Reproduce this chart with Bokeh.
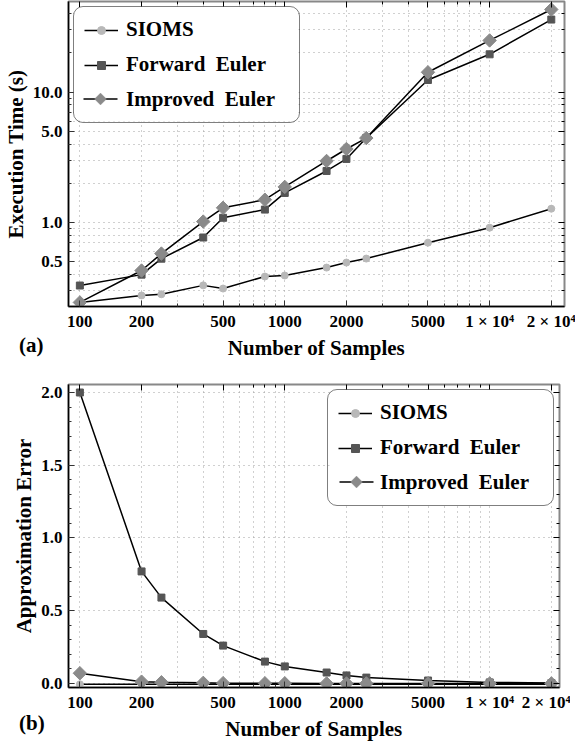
from bokeh.plotting import figure
from bokeh.layouts import column
from bokeh.models import (FixedTicker, PrintfTickFormatter, CustomJSTickFormatter, Legend,
                          LegendItem, LogAxis, LinearAxis, Range1d, PolyAnnotation,
                          BoxAnnotation, Div)
from bokeh.embed import file_html
from bokeh.resources import INLINE

# ---------------- data ----------------
samples = [100, 200, 250, 400, 500, 800, 1000, 1600, 2000, 2500, 5000, 10000, 20000]

time_sioms = [0.245, 0.277, 0.283, 0.331, 0.313, 0.387, 0.394, 0.453, 0.495, 0.531, 0.703, 0.916, 1.28]
time_forward = [0.33, 0.40, 0.53, 0.77, 1.09, 1.26, 1.69, 2.49, 3.08, 4.46, 12.4, 19.5, 36.0]
time_improved = [0.245, 0.43, 0.58, 1.02, 1.30, 1.50, 1.88, 2.97, 3.67, 4.45, 14.2, 24.9, 43.0]

err_sioms = [-0.006, -0.006, -0.006, -0.006, -0.006, -0.006, -0.006, -0.006, -0.006, -0.006, -0.006, -0.006, -0.006]
err_forward = [2.0, 0.77, 0.59, 0.34, 0.26, 0.15, 0.117, 0.075, 0.055, 0.04, 0.02, 0.007, 0.003]
err_improved = [0.07, 0.012, 0.008, 0.004, 0.002, 0.001, 0.001, 0.0, 0.0, 0.0, 0.0, 0.0, 0.0]

series_names = ["SIOMS", "Forward\u00a0 Euler", "Improved\u00a0 Euler"]
panel_tags = ["(a)", "(b)"]

x_ticks = [100, 200, 500, 1000, 2000, 5000, 10000, 20000]
x_minor = [300, 400, 600, 700, 800, 900, 3000, 4000, 6000, 7000, 8000, 9000]
time_ticks = [0.5, 1, 5, 10]
time_minor = [0.3, 0.4, 0.6, 0.7, 0.8, 0.9, 2, 3, 4, 6, 7, 8, 9, 20, 30, 40]
err_ticks = [0.0, 0.5, 1.0, 1.5, 2.0]
err_minor = [0.1, 0.2, 0.3, 0.4, 0.6, 0.7, 0.8, 0.9, 1.1, 1.2, 1.3, 1.4, 1.6, 1.7, 1.8, 1.9]

FONT = "Liberation Serif"
GRID = "#a0a0a0"
C_SIOMS = "#b8b8b8"
C_FWD = "#555555"
C_IMP = "#8a8a8a"

# legend geometry (pixels)
LG_MARGIN, LG_PAD, LG_SPACE, LG_ROW = 5, 10, 10, 25
LG_GW, LG_STANDOFF, LG_LW = 34, 8, 163
LG_W = LG_PAD * 2 + LG_GW + LG_STANDOFF + LG_LW
LG_H = LG_PAD * 2 + 3 * LG_ROW + 2 * LG_SPACE

x_fmt = CustomJSTickFormatter(code="""
if (tick >= 10000) { return (tick/10000).toFixed(0) + " \u00d7 10\u2074"; }
return tick.toFixed(0);
""")


def style_axis(ax):
    ax.axis_line_color = "black"
    ax.axis_line_width = 1.5
    ax.major_tick_in = 6
    ax.major_tick_out = 0
    ax.minor_tick_in = 3
    ax.minor_tick_out = 0
    ax.major_tick_line_color = "#333333"
    ax.minor_tick_line_color = "#333333"
    ax.major_label_text_font = FONT
    ax.major_label_text_font_style = "bold"
    ax.major_label_text_font_size = "17px"
    ax.major_label_text_color = "black"
    ax.axis_label_text_font = FONT
    ax.axis_label_text_font_style = "bold"
    ax.axis_label_text_font_size = "21px"
    ax.axis_label_text_color = "black"


def mirror_axes(p, xt, yt, ylog):
    top = LogAxis(ticker=xt, major_label_text_font_size="0px", major_label_standoff=0,
                  axis_line_color=None, major_tick_in=6, major_tick_out=0,
                  minor_tick_in=3, minor_tick_out=0, major_label_text_alpha=0)
    p.add_layout(top, "above")
    cls = LogAxis if ylog else LinearAxis
    right = cls(ticker=yt, major_label_text_font_size="0px", major_label_standoff=0,
                axis_line_color=None, major_tick_in=6, major_tick_out=0,
                minor_tick_in=3, minor_tick_out=0, major_label_text_alpha=0)
    p.add_layout(right, "right")


def make_legend(p, items, location, fw, fh):
    # white rounded backdrop, then the Improved Euler glyph (line + diamond), then the legend
    if location == "top_left":
        left = LG_MARGIN
    else:
        left = fw - LG_MARGIN - LG_W
    top = fh - LG_MARGIN
    bkw = dict(left=left, right=left + LG_W, top=top, bottom=top - LG_H,
               left_units="screen", right_units="screen", top_units="screen",
               bottom_units="screen", fill_color="white", fill_alpha=1.0, line_color=None)
    try:
        p.add_layout(BoxAnnotation(border_radius=10, **bkw))
    except Exception:
        p.add_layout(BoxAnnotation(**bkw))
    gx0 = left + LG_PAD
    cx = gx0 + LG_GW / 2
    cy = top - LG_PAD - 2 * (LG_ROW + LG_SPACE) - LG_ROW / 2
    p.add_layout(BoxAnnotation(left=gx0, right=gx0 + LG_GW, top=cy + 0.75, bottom=cy - 0.75,
                               left_units="screen", right_units="screen", top_units="screen",
                               bottom_units="screen", fill_color="black", fill_alpha=1.0,
                               line_color=None))
    r = 6
    p.add_layout(PolyAnnotation(xs=[cx - r, cx, cx + r, cx], ys=[cy, cy + r, cy, cy - r],
                                xs_units="screen", ys_units="screen",
                                fill_color=C_IMP, fill_alpha=1.0, line_color=C_IMP,
                                line_width=1))
    kw = dict(items=items, location=location, margin=LG_MARGIN, padding=LG_PAD,
              spacing=LG_SPACE, label_height=20, glyph_height=20, glyph_width=LG_GW,
              label_standoff=LG_STANDOFF, label_width=LG_LW, label_text_font=FONT,
              label_text_font_style="bold", label_text_font_size="21px",
              label_text_color="black", border_line_color="black", border_line_width=1.5,
              background_fill_alpha=0.0)
    try:
        lg = Legend(border_radius=10, **kw)
    except Exception:
        lg = Legend(**kw)
    p.add_layout(lg)


def add_series(p, ys_list):
    items = []
    specs = [
        (ys_list[0], dict(marker="circle", size=7, fill_color=C_SIOMS, line_color=C_SIOMS)),
        (ys_list[1], dict(marker="square", size=7, fill_color=C_FWD, line_color=C_FWD)),
        (ys_list[2], dict(marker="square", size=9.5, angle=0.785398, fill_color=C_IMP, line_color=C_IMP)),
    ]
    for k, (name, (ys, mk)) in enumerate(zip(series_names, specs)):
        lr = p.line(samples, ys, line_color="black", line_width=1.5)
        sr = p.scatter(samples, ys, **mk)
        if k < 2:
            rs = [lr, sr]
        else:
            rs = [p.line([], [], line_color="black", line_alpha=0.0)]
        items.append(LegendItem(label=name, renderers=rs))
    return items


def style_grid(p, minor_y=True):
    for g in (p.xgrid[0], p.ygrid[0]):
        g.grid_line_color = GRID
        g.grid_line_dash = "1 4"
        g.grid_line_width = 1
    p.xgrid[0].minor_grid_line_color = GRID
    p.xgrid[0].minor_grid_line_dash = "1 4"
    if minor_y:
        p.ygrid[0].minor_grid_line_color = GRID
        p.ygrid[0].minor_grid_line_dash = "1 4"


def setup_x(p, xt):
    ax = p.xaxis[0]
    ax.ticker = xt
    ax.formatter = x_fmt
    style_axis(ax)
    ax.axis_label = "Number of Samples"
    ax.major_label_standoff = 5
    ax.axis_label_standoff = 2


def tag_div(text, top_shift, bottom_fill):
    return Div(text=text, width=40, height=24,
               margin=(top_shift, 0, bottom_fill, 19),
               styles={"font-family": FONT, "font-size": "21px", "font-weight": "bold",
                       "line-height": "24px", "color": "black", "z-index": "10"})


# ---------------- (a) execution time ----------------
FW1, FH1 = 496, 305
xt1 = FixedTicker(ticks=x_ticks, minor_ticks=x_minor)
yt1 = FixedTicker(ticks=time_ticks, minor_ticks=time_minor)
p1 = figure(x_axis_type="log", y_axis_type="log",
            x_range=Range1d(88, 23200), y_range=Range1d(0.228, 49.5),
            frame_width=FW1, frame_height=FH1,
            min_border_left=63, min_border_right=11, min_border_top=1, min_border_bottom=30,
            output_backend="svg", toolbar_location=None)
p1.outline_line_color = "#888888"
p1.outline_line_width = 2
setup_x(p1, xt1)
p1.yaxis[0].ticker = yt1
p1.yaxis[0].formatter = PrintfTickFormatter(format="%.1f")
style_axis(p1.yaxis[0])
p1.yaxis[0].axis_label = "Execution Time (s)"
p1.yaxis[0].major_label_standoff = 6
p1.yaxis[0].axis_label_standoff = 2
style_grid(p1)
mirror_axes(p1, xt1, yt1, True)
items1 = add_series(p1, [time_sioms, time_forward, time_improved])
make_legend(p1, items1, "top_left", FW1, FH1)

# ---------------- (b) approximation error ----------------
FW2, FH2 = 491, 303
xt2 = FixedTicker(ticks=x_ticks, minor_ticks=x_minor)
yt2 = FixedTicker(ticks=err_ticks, minor_ticks=err_minor)
p2 = figure(x_axis_type="log",
            x_range=Range1d(88, 21900), y_range=Range1d(-0.028, 2.055),
            frame_width=FW2, frame_height=FH2,
            min_border_left=63, min_border_right=16, min_border_top=22, min_border_bottom=30,
            output_backend="svg", toolbar_location=None)
p2.outline_line_color = "#888888"
p2.outline_line_width = 2
setup_x(p2, xt2)
p2.yaxis[0].ticker = yt2
p2.yaxis[0].formatter = PrintfTickFormatter(format="%.1f")
style_axis(p2.yaxis[0])
p2.yaxis[0].axis_label = "Approximation Error"
p2.yaxis[0].major_label_standoff = 6
p2.yaxis[0].axis_label_standoff = 2
style_grid(p2, minor_y=False)
mirror_axes(p2, xt2, yt2, False)
items2 = add_series(p2, [err_sioms, err_forward, err_improved])
make_legend(p2, items2, "top_right", FW2, FH2)

layout = column(p1, tag_div(panel_tags[0], -29, 5), p2, tag_div(panel_tags[1], -32, 8),
                spacing=0)
open("out.html", "w").write(file_html(layout, INLINE))
